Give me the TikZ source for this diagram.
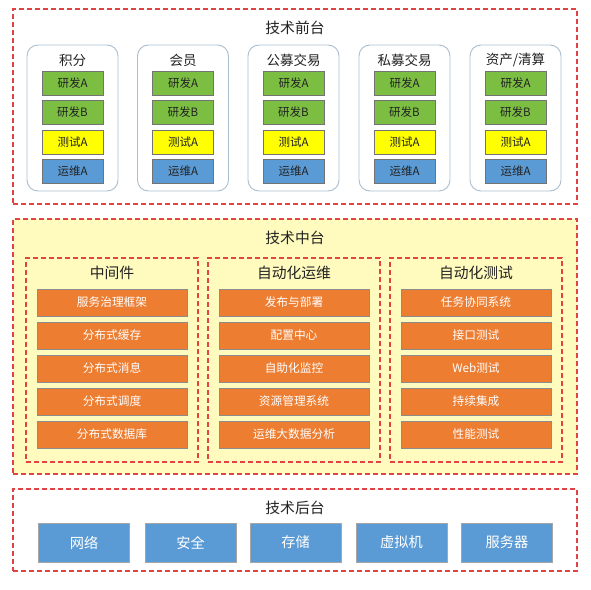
\documentclass[tikz,border=0pt]{standalone}
\usepackage{fontspec}
\setmainfont{Noto Sans CJK SC}
\usepackage{xcolor}
\usetikzlibrary{positioning}
\definecolor{dashred}{RGB}{226,66,66}
\definecolor{groupline}{RGB}{170,190,208}
\definecolor{devgreen}{RGB}{124,190,66}
\definecolor{testyellow}{RGB}{255,255,0}
\definecolor{opsblue}{RGB}{91,155,213}
\definecolor{midfill}{RGB}{255,250,190}
\definecolor{midorange}{RGB}{237,125,49}
\definecolor{textdark}{RGB}{34,34,34}

\begin{document}
\begin{tikzpicture}[x=1pt,y=-1pt,
  layer/.style={draw=dashred, dash pattern=on 5pt off 3pt, line width=1.1pt, minimum width=564pt, inner sep=0pt},
  layertitle/.style={text=textdark, font=\fontsize{14.8}{16}\selectfont},
  group/.style={draw=groupline, rounded corners=11pt, line width=0.9pt, minimum width=91pt, minimum height=146pt, inner sep=0pt},
  grouptitle/.style={text=textdark, font=\fontsize{13.5}{15}\selectfont},
  item/.style={draw=black!55, line width=0.6pt, minimum width=61pt, minimum height=24pt, inner sep=0pt, text=textdark, font=\fontsize{11.5}{13}\selectfont},
  column/.style={draw=dashred, dash pattern=on 5pt off 3pt, line width=1.1pt, minimum width=172pt, minimum height=204pt, inner sep=0pt},
  midbox/.style={draw=black!45, line width=0.6pt, fill=midorange, minimum width=150pt, minimum height=27pt, inner sep=0pt, text=white, font=\fontsize{11.7}{13}\selectfont},
  basebox/.style={draw=black!35, line width=0.6pt, fill=opsblue, minimum width=91pt, minimum height=39pt, inner sep=0pt, text=white, font=\fontsize{14.2}{16}\selectfont}]
\useasboundingbox[fill=white] (0,0) rectangle (591,589);

% 技术前台
\node[layer, minimum height=195pt] (front) at (295,106.5) {};
\node[layertitle] (fronttitle) at (295,28) {技术前台};
\foreach \x/\name [count=\i] in {72.5/积分, 183/会员, 293.5/公募交易, 404.5/私募交易, 515.5/{资产/清算}} {
  \node[group] (grp\i) at (\x,118) {};
  \node[grouptitle] (grp\i-t) at (\x,60) {\name};
  \node[item, fill=devgreen] (grp\i-1) at (\x,83) {研发A};
  \node[item, fill=devgreen] (grp\i-2) at (\x,112) {研发B};
  \node[item, fill=testyellow] (grp\i-3) at (\x,142) {测试A};
  \node[item, fill=opsblue] (grp\i-4) at (\x,171) {运维A};
}

% 技术中台
\node[layer, fill=midfill, minimum height=255pt] (middle) at (295,346.5) {};
\node[layertitle] (middletitle) at (295,238) {技术中台};
\foreach \x/\name/\list [count=\i] in {
    112/中间件/{服务治理框架,分布式缓存,分布式消息,分布式调度,分布式数据库},
    294/自动化运维/{发布与部署,配置中心,自助化监控,资源管理系统,运维大数据分析},
    476/自动化测试/{任务协同系统,接口测试,Web测试,持续集成,性能测试}} {
  \node[column] (col\i) at (\x,360) {};
  \node[layertitle] (col\i-t) at (\x,273) {\name};
  \foreach \t [count=\j] in \list {
    \node[midbox] (col\i-\j) at (\x,269.5+33*\j) {\t};
  }
}

% 技术后台
\node[layer, minimum height=82pt] (back) at (295,530) {};
\node[layertitle] (backtitle) at (295,508) {技术后台};
\foreach \x/\name [count=\i] in {84/网络, 190.5/安全, 295.5/存储, 401.5/虚拟机, 507/服务器} {
  \node[basebox] (base\i) at (\x,542.5) {\name};
}
\end{tikzpicture}
\end{document}
